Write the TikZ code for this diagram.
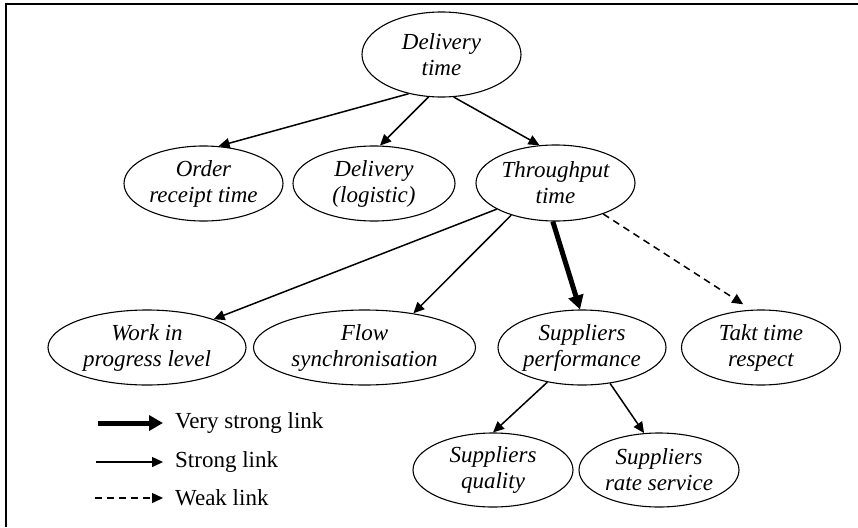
\documentclass[tikz,border=0pt]{standalone}
\usepackage{fontspec}
\setmainfont{Liberation Serif}
\usetikzlibrary{shapes.geometric,arrows.meta}
\begin{document}
\begin{tikzpicture}[x=1pt,y=-1pt,
  el/.style={ellipse,draw,line width=1.1pt,inner sep=0pt,align=center,
    font=\fontsize{23}{26}\selectfont\itshape},
  lk/.style={line width=1.5pt,-{Triangle[length=11pt,width=10pt]}},
  vs/.style={line width=5pt,-{Triangle[length=14pt,width=15pt]}},
  wk/.style={line width=1.5pt,dash pattern=on 7pt off 5pt,-{Triangle[length=11pt,width=10pt]}},
  lg/.style={anchor=west,inner sep=0pt,font=\fontsize{23}{26}\selectfont}]
\useasboundingbox (0,0) rectangle (858,527);
\draw[line width=2pt] (858,4) -- (6,4) -- (6,527);
\node[el,minimum width=159pt,minimum height=85pt] (dt) at (441.5,54.5) {Delivery\\time};
\node[el,minimum width=159pt,minimum height=75pt] (ort) at (203.5,183.5) {Order\\receipt time};
\node[el,minimum width=162pt,minimum height=75pt] (dl) at (374,183.5) {Delivery\\(logistic)};
\node[el,minimum width=159pt,minimum height=76pt] (tt) at (555.5,183) {Throughput\\time};
\node[el,minimum width=198pt,minimum height=75pt] (wip) at (147,347.5) {Work in\\progress level};
\node[el,minimum width=222pt,minimum height=75pt] (fs) at (364.5,347.5) {Flow\\synchronisation};
\node[el,minimum width=168pt,minimum height=75pt] (sp) at (582,347.5) {Suppliers\\performance};
\node[el,minimum width=159pt,minimum height=75pt] (tk) at (761,347.5) {Takt time\\respect};
\node[el,minimum width=160pt,minimum height=74pt] (sq) at (493,470) {Suppliers\\quality};
\node[el,minimum width=160pt,minimum height=74pt] (srs) at (659,470) {Suppliers\\rate service};
\draw[lk] (dt.230) -- (ort.68);
\draw[lk] (dt.253) -- (dl.81);
\draw[lk] (dt.286) -- (tt.113);
\draw[lk] (tt.204) -- (wip.23);
\draw[lk] (tt.216) -- (fs.35);
\draw[vs] (tt.266) -- (sp.93);
\draw[wk,shorten >=10pt] (tt.327) -- (tk.104);
\draw[lk] (sp.225) -- (sq.90);
\draw[lk] (sp.308) -- (srs.112);
\coordinate (a1) at (98,423); \coordinate (b1) at (163,423);
\coordinate (a2) at (96,462); \coordinate (b2) at (163,462);
\coordinate (a3) at (95,498); \coordinate (b3) at (163,498);
\draw[vs] (a1) -- (b1);
\draw[lk] (a2) -- (b2);
\draw[wk] (a3) -- (b3);
\node[lg] (t1) at (175,423) {Very strong link};
\node[lg] (t2) at (175,462) {Strong link};
\node[lg] (t3) at (175,498) {Weak link};
\end{tikzpicture}
\end{document}
